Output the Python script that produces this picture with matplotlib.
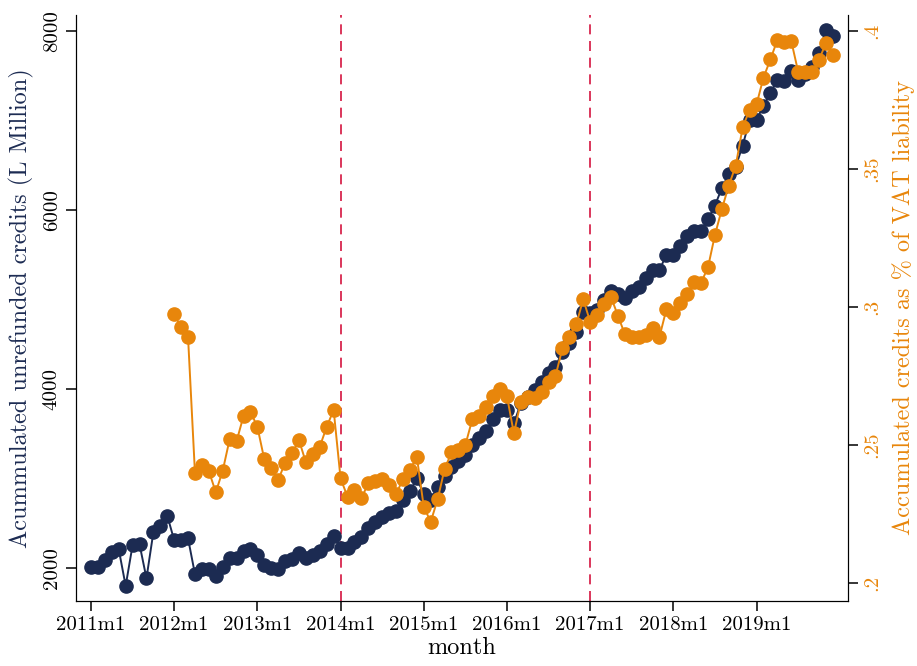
import numpy as np
import matplotlib
matplotlib.use("Agg")
import matplotlib.pyplot as plt

plt.rcParams['font.family'] = 'serif'
plt.rcParams['font.serif'] = ['cmr10', 'DejaVu Serif']
plt.rcParams['mathtext.fontset'] = 'cm'
plt.rcParams['axes.unicode_minus'] = False

# month index 0 = 2011m1
tick_labels = ['2011m1', '2012m1', '2013m1', '2014m1', '2015m1',
               '2016m1', '2017m1', '2018m1', '2019m1']
event_months = [36, 72]  # 2014m1, 2017m1

# accumulated unrefunded credits (L Million), 2011m1-2019m12
credits = [
    2010, 2015, 2090, 2175, 2210, 1800, 2255, 2265, 1885, 2400, 2470, 2585,
    2310, 2310, 2330, 1930, 1985, 1985, 1910, 2015, 2110, 2115, 2195, 2210,
    2150, 2035, 2005, 1985, 2080, 2095, 2165, 2110, 2140, 2185, 2265, 2355,
    2220, 2220, 2295, 2350, 2445, 2515, 2575, 2610, 2640, 2760, 2855, 3000,
    2825, 2760, 2910, 3030, 3130, 3190, 3265, 3375, 3450, 3530, 3660, 3765,
    3765, 3615, 3840, 3915, 3990, 4080, 4175, 4250, 4415, 4510, 4640, 4855,
    4850, 4880, 4995, 5100, 5060, 5015, 5090, 5145, 5235, 5330, 5330, 5500,
    5500, 5600, 5710, 5760, 5770, 5895, 6050, 6245, 6400, 6485, 6720, 7005,
    7010, 7160, 7310, 7450, 7440, 7555, 7450, 7525, 7600, 7750, 8010, 7945,
]

# accumulated credits as share of VAT liability, 2012m1-2019m12
share = [
    0.2974, 0.2926, 0.2890, 0.2397, 0.2428, 0.2406, 0.2329, 0.2407, 0.2521, 0.2514, 0.2605, 0.2621,
    0.2566, 0.2448, 0.2416, 0.2373, 0.2436, 0.2470, 0.2518, 0.2437, 0.2466, 0.2494, 0.2566, 0.2627,
    0.2379, 0.2313, 0.2337, 0.2307, 0.2361, 0.2371, 0.2377, 0.2355, 0.2322, 0.2376, 0.2409, 0.2458,
    0.2276, 0.2222, 0.2303, 0.2413, 0.2473, 0.2482, 0.2500, 0.2593, 0.2606, 0.2637, 0.2679, 0.2703,
    0.2677, 0.2542, 0.2657, 0.2673, 0.2669, 0.2693, 0.2729, 0.2750, 0.2850, 0.2892, 0.2937, 0.3028,
    0.2947, 0.2971, 0.3010, 0.3037, 0.2969, 0.2902, 0.2892, 0.2893, 0.2898, 0.2923, 0.2892, 0.2992,
    0.2979, 0.3016, 0.3047, 0.3092, 0.3088, 0.3144, 0.3261, 0.3355, 0.3440, 0.3512, 0.3651, 0.3714,
    0.3734, 0.3831, 0.3897, 0.3967, 0.3961, 0.3965, 0.3853, 0.3851, 0.3851, 0.3895, 0.3955, 0.3913,
]

navy = '#1c2b52'
orange = '#e8860b'
red = '#d4143f'

months_credits = np.arange(len(credits))
months_share = np.arange(12, 12 + len(share))

fig = plt.figure(figsize=(9.17, 6.66), dpi=100)
ax = fig.add_axes([0.0829, 0.0976, 0.8419, 0.8799])
ax2 = ax.twinx()

ax.plot(months_credits, credits, color=navy, lw=1.4, marker='o', ms=9.5, zorder=3)
for m in event_months:
    ax.axvline(m, color=red, lw=1.2, ls=(0, (6, 4)), zorder=2)
ax2.plot(months_share, share, color=orange, lw=1.4, marker='o', ms=9.5, zorder=3)

ax.set_xlim(-2.16, 109.2)
ax.set_ylim(1631, 8179)
ax2.set_ylim(0.1935, 0.4058)

ax.set_xticks(np.arange(0, 108, 12))
ax.set_xticklabels(tick_labels)
ax.set_yticks([2000, 4000, 6000, 8000])
ax2.set_yticks([0.2, 0.25, 0.3, 0.35, 0.4])
ax2.set_yticklabels(['.2', '.25', '.3', '.35', '.4'])

for a in (ax, ax2):
    a.spines['top'].set_visible(False)
    a.tick_params(direction='out', length=7, width=1.1, labelsize=15, pad=4)
ax.tick_params(axis='y', labelrotation=90)
ax2.tick_params(axis='y', labelrotation=90, labelcolor=orange)
for lab in ax.get_yticklabels() + ax2.get_yticklabels():
    lab.set_va('center')

ax.set_xlabel('month', fontsize=17.5, labelpad=2)
ax.set_ylabel('Acummulated unrefunded credits (L Million)', fontsize=17.5, color=navy, labelpad=6)
ax2.set_ylabel('Accumulated credits as % of VAT liability', fontsize=17.5, color=orange, labelpad=8)

fig.savefig('out.png', dpi=100)
